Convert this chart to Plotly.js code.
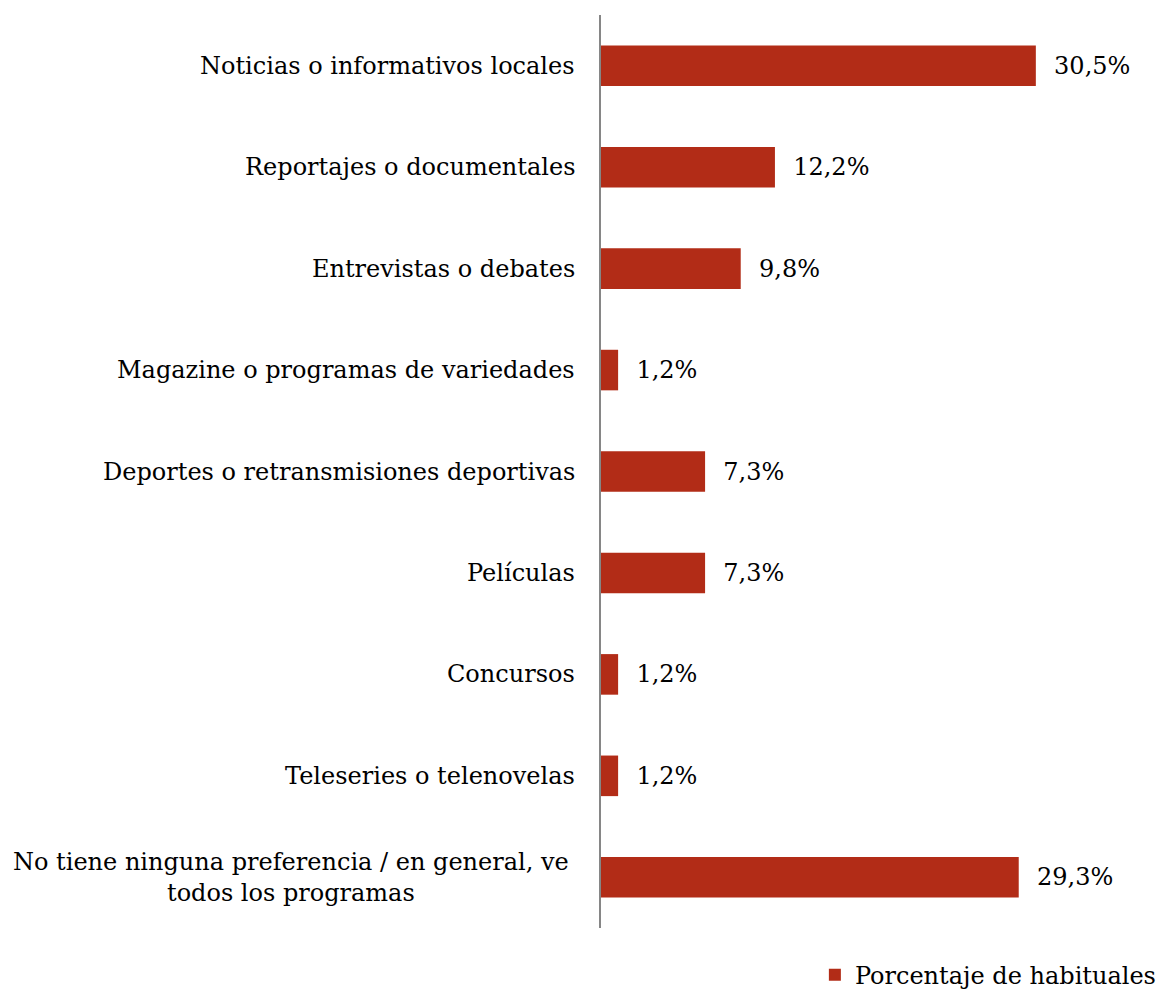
<!DOCTYPE html>
<html>
<head>
<meta charset="utf-8">
<script src="https://cdn.plot.ly/plotly-3.0.1.min.js"></script>
<style>html,body{margin:0;padding:0;background:#fff;}#chart{width:1162px;height:995px;}</style>
</head>
<body>
<div id="chart"></div>
<script>
const categories = [
  "Noticias o informativos locales",
  "Reportajes o documentales",
  "Entrevistas o debates",
  "Magazine o programas de variedades",
  "Deportes o retransmisiones deportivas",
  "Películas",
  "Concursos",
  "Teleseries o telenovelas",
  "No tiene ninguna preferencia / en general, ve<br>todos los programas"
];
const values = [30.5, 12.2, 9.8, 1.2, 7.3, 7.3, 1.2, 1.2, 29.3];
const seriesName = "Porcentaje de habituales";

const FONT = "DejaVu Serif, serif";
const FS = 24;
const barColor = "#B22C17";

const trace = {
  type: "bar",
  orientation: "h",
  name: seriesName,
  x: values,
  y: categories,
  marker: {color: barColor},
  text: values.map(v => "\u00a0\u00a0" + v.toFixed(1).replace(".", ",") + "%"),
  textposition: "outside",
  cliponaxis: false,
  textfont: {family: FONT, size: FS, color: "#000"},
  hoverinfo: "skip",
  showlegend: true
};

const annotations = categories.map((c, i) => ({
  xref: "paper", yref: "y",
  x: 0, y: c,
  text: c,
  showarrow: false,
  xanchor: "right",
  yanchor: "middle",
  align: c.includes("<br>") ? "center" : "right",
  xshift: c.includes("<br>") ? -30 : -24,
  font: {family: FONT, size: FS, color: "#000"}
}));

const layout = {
  width: 1162, height: 995,
  margin: {l: 601, r: 62, t: 15, b: 67, autoexpand: false},
  paper_bgcolor: "#fff",
  plot_bgcolor: "#fff",
  bargap: 0.6,
  font: {family: FONT, size: FS, color: "#000"},
  xaxis: {range: [0, 35], showgrid: false, zeroline: false, showticklabels: false, showline: false, fixedrange: true},
  yaxis: {
    autorange: "reversed", showticklabels: false, showgrid: false, zeroline: false,
    showline: true, linecolor: "#868686", linewidth: 2, ticks: ""
  },
  annotations: annotations,
  showlegend: true,
  legend: {
    orientation: "h",
    x: 1.124, xanchor: "right", y: -0.027, yanchor: "top",
    font: {family: FONT, size: FS, color: "#000"},
    itemwidth: 30
  }
};

Plotly.newPlot("chart", [trace], layout, {displayModeBar: false, staticPlot: true});
</script>
</body>
</html>
